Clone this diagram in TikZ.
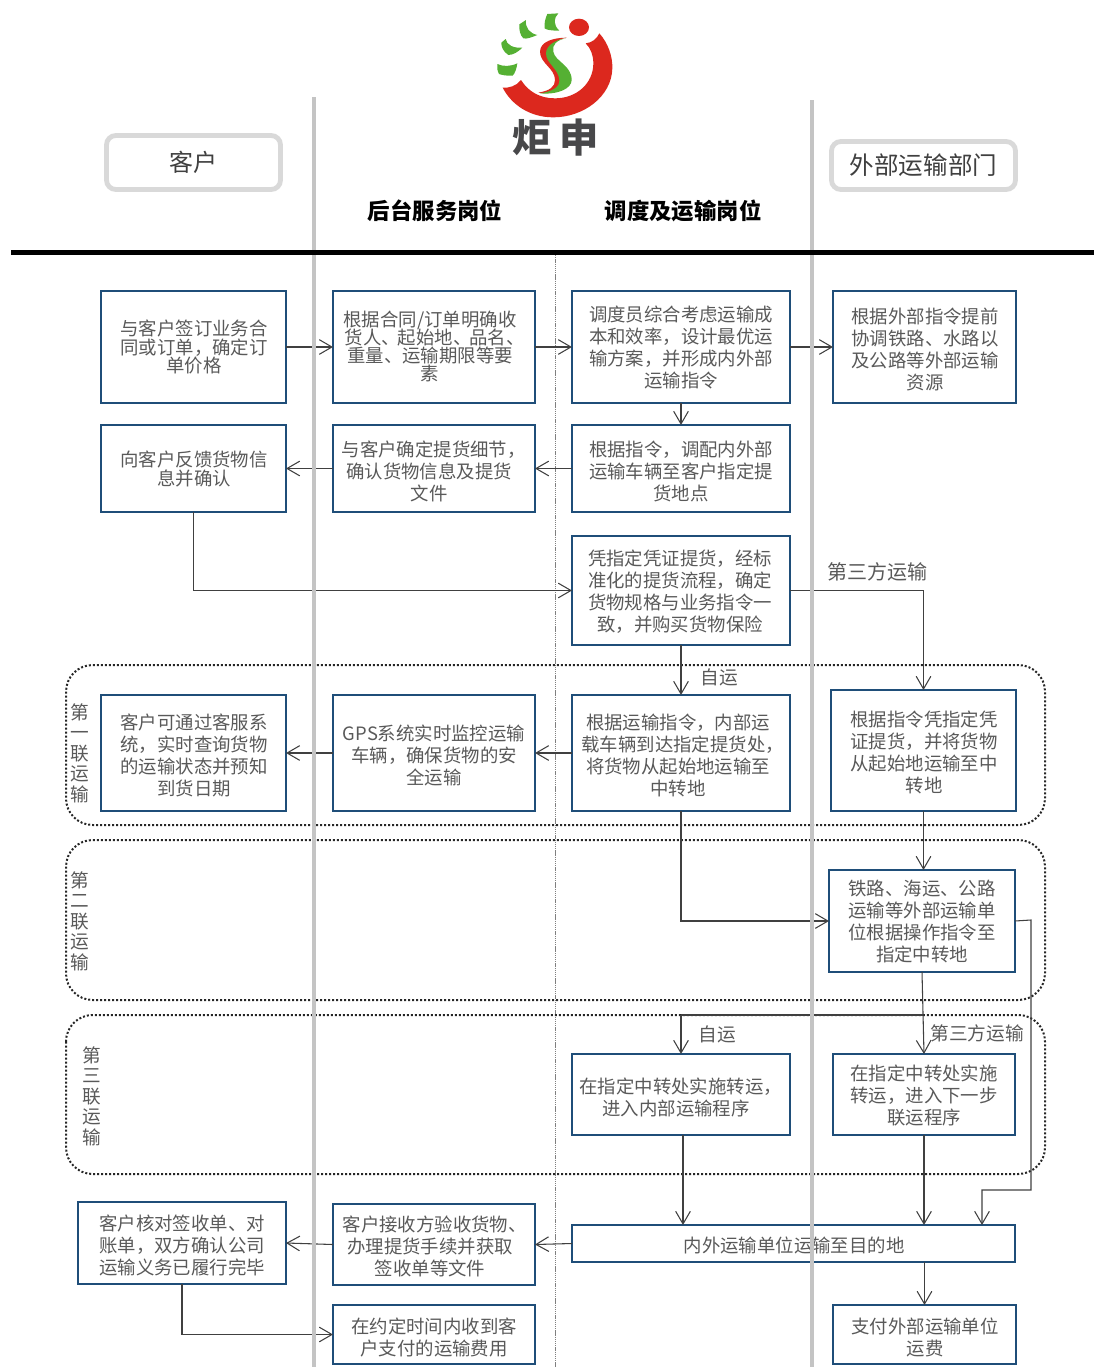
\documentclass[tikz,border=0pt]{standalone}
\usepackage{fontspec}
\setmainfont{Noto Sans CJK SC}
\usetikzlibrary{arrows.meta}
\lineskiplimit=-20pt
\normallineskiplimit=-20pt
\definecolor{boxblue}{HTML}{1F4E79}
\definecolor{txtgray}{HTML}{595959}
\definecolor{conngray}{HTML}{404040}
\definecolor{lanegray}{HTML}{C4C4C4}
\definecolor{headgray}{HTML}{D9D9D9}
\definecolor{logored}{HTML}{DC281E}
\definecolor{logogreen}{HTML}{55B033}
\definecolor{logogray}{HTML}{48484A}
\tikzset{
  boxnode/.style={draw=boxblue,line width=1.5pt,inner sep=0pt,outer sep=0pt},
  txtwide/.style={text=txtgray,inner sep=0pt,align=center,font=\fontsize{13.8pt}{16.5pt}\selectfont},
  txttight/.style={text=txtgray,inner sep=0pt,align=center,font=\fontsize{13.8pt}{13.6pt}\selectfont},
  conn/.style={draw=conngray,line width=0.8pt,-{Straight Barb[length=9.5pt,width=11pt]}},
  seg/.style={draw=conngray,line width=0.8pt},
  headbox/.style={draw=headgray,line width=3.6pt,fill=white,rounded corners=7pt,inner sep=0pt,outer sep=0pt},
  lane/.style={draw=lanegray,line width=2.5pt},
  zone/.style={draw=black!85,line width=1.5pt,dash pattern=on 1.5pt off 1.5pt,rounded corners=20pt},
  vlabel/.style={text=txtgray,inner sep=0pt,align=center,font=\fontsize{14pt}{15.4pt}\selectfont},
  arrowlabel/.style={text=txtgray,inner sep=0pt,font=\fontsize{14pt}{16pt}\selectfont},
}
% trailing punctuation set half wide, as the reference sets it
\newcommand\hp{\kern-6.9pt}
% name, x1, y1, x2, y2, text x, text y, text style, text
\newcommand\procbox[9]{%
  \node[boxnode,minimum width={(#4-#2)*0.75pt},minimum height={(#5-#3)*0.75pt}] (#1) at ({(#2+#4)/2},{(#3+#5)/2}) {};
  \node[#8] (#1t) at (#6,{#7+1}) {#9};
}
\begin{document}
\begin{tikzpicture}[x=0.75pt,y=-0.75pt]
\useasboundingbox (0,0) rectangle (1094,1367);
\coordinate (midtop) at (555.5,255);
\coordinate (midbot) at (555.5,1367);
\draw[draw=gray,line width=0.5pt,dash pattern=on 1pt off 0.6pt] (midtop) -- (midbot);

% logo
\begin{scope}[shift={(440,0)},x=0.25pt,y=-0.25pt]
\fill[logored] (478,100) .. controls (505,130) and (518,170) .. (517,205)
  .. controls (515,290) and (430,352) .. (340,352)
  .. controls (270,352) and (215,315) .. (188,263)
  .. controls (205,265) and (230,258) .. (243,240)
  .. controls (265,275) and (300,295) .. (345,295)
  .. controls (410,295) and (460,250) .. (460,190)
  .. controls (460,165) and (452,145) .. (437,130)
  .. controls (455,128) and (470,118) .. (478,100) -- cycle;
\fill[logored] (417,82) ellipse [x radius=30,y radius=26];
\fill[logogreen] (322,42) -- (355,40) .. controls (340,55) and (340,75) .. (358,92)
  .. controls (335,92) and (320,90) .. (314,85) .. controls (312,70) and (316,55) .. (322,42) -- cycle;
\fill[logogreen] (258,60) .. controls (255,85) and (270,100) .. (292,105)
  .. controls (275,112) and (260,118) .. (250,115) .. controls (240,105) and (237,90) .. (238,73) -- cycle;
\fill[logogreen] (197,117) .. controls (200,135) and (220,145) .. (247,143)
  .. controls (235,155) and (220,165) .. (205,165) .. controls (190,155) and (183,140) .. (184,128) -- cycle;
\fill[logogreen] (172,192) .. controls (190,200) and (210,200) .. (232,190)
  .. controls (230,205) and (225,220) .. (218,227) .. controls (200,228) and (185,225) .. (177,222)
  .. controls (172,212) and (170,202) .. (172,192) -- cycle;
\fill[logored] (380,113) .. controls (340,113) and (300,125) .. (300,155)
  .. controls (300,190) and (345,205) .. (345,240)
  .. controls (345,260) and (330,272) .. (295,278)
  .. controls (340,285) and (370,270) .. (372,240)
  .. controls (372,205) and (330,190) .. (330,155)
  .. controls (330,135) and (350,118) .. (380,113) -- cycle;
\fill[logogreen] (378,115) .. controls (350,120) and (335,135) .. (340,155)
  .. controls (345,185) and (395,195) .. (395,240)
  .. controls (395,265) and (355,285) .. (300,280)
  .. controls (335,275) and (360,262) .. (358,240)
  .. controls (355,205) and (318,190) .. (318,160)
  .. controls (318,135) and (350,118) .. (378,115) -- cycle;
\end{scope}
\node[text=logogray,inner sep=0pt,font=\fontsize{29.5pt}{30pt}\selectfont\bfseries] (brand) at (555.5,138) {炬\hspace{6pt}申};

% headers
\node[headbox,minimum width={174*0.75pt},minimum height={54*0.75pt},text=conngray,font=\fontsize{18pt}{20pt}\selectfont] (hcust) at (193.5,162.5) {客户};
\node[headbox,minimum width={184*0.75pt},minimum height={48*0.75pt},text=conngray,font=\fontsize{18.4pt}{20pt}\selectfont] (hext) at (923.5,165.5) {外部运输部门};
\node[text=black,inner sep=0pt,font=\fontsize{16.8pt}{18pt}\selectfont\bfseries] (hback) at (435,211) {后台服务岗位};
\node[text=black,inner sep=0pt,font=\fontsize{16.8pt}{18pt}\selectfont\bfseries] (hdisp) at (683,211) {调度及运输岗位};

% zones
\coordinate (z1a) at (66,665); \coordinate (z1b) at (1045,825);
\coordinate (z2a) at (66,840); \coordinate (z2b) at (1045,1000);
\coordinate (z3a) at (66,1015); \coordinate (z3b) at (1045,1174);
\draw[zone] (z1a) rectangle (z1b);
\draw[zone] (z2a) rectangle (z2b);
\draw[zone] (z3a) rectangle (z3b);
\node[vlabel] (zl1) at (80,753) {第\\一\\联\\运\\输};
\node[vlabel] (zl2) at (80,921) {第\\二\\联\\运\\输};
\node[vlabel] (zl3) at (92,1096) {第\\三\\联\\运\\输};

% boxes
\procbox{a1}{101}{291}{286}{403}{194}{346}{txttight}{与客户签订业务合\\同或订单，确定订\\单价格}
\procbox{a2}{333}{291}{535}{403}{430}{345.5}{txttight}{根据合同/订单明确收\\货人、\kern-1.5pt 起始地、\kern-1.5pt 品名、\hp\\重量、运输期限等要\\素}
\procbox{a3}{572}{291}{790}{403}{681}{347}{txtwide}{调度员综合考虑运输成\\本和效率，设计最优运\\输方案，并形成内外部\\运输指令}
\procbox{a4}{833}{291}{1016}{403}{925}{348}{txtwide}{根据外部指令提前\\协调铁路、水路以\\及公路等外部运输\\资源}
\procbox{b1}{101}{425}{286}{512}{194}{468}{txttight}{向客户反馈货物信\\息并确认}
\procbox{b2}{333}{425}{535}{512}{429}{470}{txtwide}{与客户确定提货细节，\hp\\确认货物信息及提货\\文件}
\procbox{b3}{572}{425}{790}{512}{681}{470}{txtwide}{根据指令，调配内外部\\运输车辆至客户指定提\\货地点}
\procbox{c3}{572}{536}{790}{645}{680}{591}{txtwide}{凭指定凭证提货，经标\\准化的提货流程，确定\\货物规格与业务指令一\\致，并购买货物保险}
\procbox{d1}{101}{695}{286}{811}{194}{754}{txtwide}{客户可通过客服系\\统，实时查询货物\\的运输状态并预知\\到货日期}
\procbox{d2}{333}{695}{535}{811}{434}{754}{txtwide}{GPS系统实时监控运输\\车辆，确保货物的安\\全运输}
\procbox{d3}{572}{695}{790}{811}{678}{754}{txtwide}{根据运输指令，内部运\\载车辆到达指定提货处，\hp\\将货物从起始地运输至\\中转地}
\procbox{d4}{831}{690}{1016}{811}{924}{751}{txtwide}{根据指令凭指定凭\\证提货，并将货物\\从起始地运输至中\\转地}
\procbox{e4}{829}{870}{1015}{972}{922}{921}{txtwide}{铁路、海运、公路\\运输等外部运输单\\位根据操作指令至\\指定中转地}
\procbox{f3}{572}{1054}{790}{1135}{676}{1096}{txtwide}{在指定中转处实施转运，\hp\\进入内部运输程序}
\procbox{f4}{833}{1054}{1015}{1135}{924}{1095}{txtwide}{在指定中转处实施\\转运，进入下一步\\联运程序}
\procbox{g1}{78}{1202}{286}{1284}{182}{1244}{txtwide}{客户核对签收单、对\\账单，双方确认公司\\运输义务已履行完毕}
\procbox{g2}{333}{1204}{535}{1285}{430}{1245}{txtwide}{客户接收方验收货物、\hp\\办理提货手续并获取\\签收单等文件}
\procbox{g3}{572}{1225}{1015}{1262}{794}{1244}{txtwide}{内外运输单位运输至目的地}
\procbox{h2}{333}{1305}{535}{1364}{434}{1336}{txtwide}{在约定时间内收到客\\户支付的运输费用}
\procbox{h4}{833}{1305}{1016}{1364}{925}{1336}{txtwide}{支付外部运输单位\\运费}

% connectors
\draw[conn] (a1.east) -- (a2.west);
\draw[conn] (a2.east) -- (a3.west);
\draw[conn] (a3.east) -- (a4.west);
\draw[conn] (a3.south) -- (b3.north);
\draw[conn] (b3.west) -- (b2.east);
\draw[conn] (b2.west) -- (b1.east);
\draw[conn] (b1.south) |- (c3.west);
\draw[conn] (c3.south) -- (d3.north);
\draw[conn] (c3.east) -| (d4.north);
\draw[conn] (d3.west) -- (d2.east);
\draw[conn] (d2.west) -- (d1.east);
\draw[conn] (d4.south) -- (d4.south |- e4.north);
\draw[conn] (d3.south) |- (e4.west);
\draw[conn] (e4.south) -- (f4.north);
\coordinate (split) at (681,1015);
\coordinate (splitR) at (923,1015);
\draw[seg] (splitR) -- (split);
\draw[conn] (split) -- (f3.north);
\coordinate (extR) at (1031,920);
\coordinate (extB) at (1031,1190);
\coordinate (extL) at (982,1190);
\coordinate (extT) at (982,1225);
\draw[conn] (e4.east) -- (extR) -- (extB) -- (extL) -- (extT);
\coordinate (f3out) at (683,1135);
\draw[conn] (f3out) -- (f3out |- g3.north);
\draw[conn] (f4.south) -- (f4.south |- g3.north);
\draw[conn] (g3.west) -- (g2.east);
\draw[conn] (g2.west) -- (g1.east);
\draw[conn] (g1.south) |- (h2.west);
\draw[conn] (h4.north |- g3.south) -- (h4.north);

% connector labels
\node[arrowlabel,font=\fontsize{15pt}{16pt}\selectfont] (l3p1) at (877,572) {第三方运输};
\node[arrowlabel] (lz1) at (719,677) {自运};
\node[arrowlabel] (lz2) at (717,1034) {自运};
\node[arrowlabel] (l3p2) at (977,1033) {第三方运输};

% lanes and heavy rule on top
\coordinate (laneAtop) at (314,97);
\coordinate (laneAbot) at (314,1367);
\coordinate (laneBtop) at (812,100);
\coordinate (laneBbot) at (812,1367);
\draw[lane] (laneAtop) -- (laneAbot);
\draw[lane] (laneBtop) -- (laneBbot);
\coordinate (ruleL) at (11,252.5);
\coordinate (ruleR) at (1094,252.5);
\draw[black,line width=3.6pt] (ruleL) -- (ruleR);
\end{tikzpicture}
\end{document}
